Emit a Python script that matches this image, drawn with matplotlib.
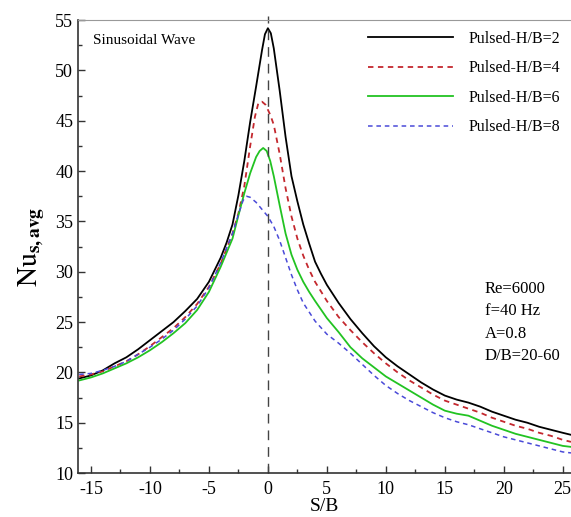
import matplotlib
matplotlib.use("Agg")
import matplotlib.pyplot as plt
from matplotlib.ticker import MultipleLocator

plt.rcParams['font.family'] = ['Liberation Serif', 'DejaVu Serif']
plt.rcParams['mathtext.fontset'] = 'stix'
plt.rcParams['axes.unicode_minus'] = False

# S/B positions and Nu values, one pair per H/B case
x_hb2 = [-16, -15, -14, -13, -12, -11, -10, -9, -8, -7, -6, -5, -4, -3.5, -3, -2.5, -2, -1.5, -1, -0.5,
         -0.25, 0, 0.25, 0.5, 1, 1.5, 2, 2.5, 3, 3.5, 4, 4.5, 5, 6, 7, 8, 9, 10, 11, 12, 13, 14, 15,
         16, 17, 18, 19, 20, 21, 22, 23, 24, 25, 25.7]
nu_hb2 = [19.4, 19.7, 20.2, 20.9, 21.5, 22.3, 23.2, 24.1, 25.0, 26.1, 27.3, 29.0, 31.4, 32.9, 34.7, 37.6,
          41.0, 44.9, 48.4, 52.0, 53.6, 54.2, 53.7, 52.2, 48.0, 43.4, 39.5, 37.0, 34.7, 32.8, 31.0,
          29.8, 28.7, 26.9, 25.3, 23.9, 22.6, 21.5, 20.6, 19.8, 19.0, 18.3, 17.7, 17.3, 17.0, 16.6,
          16.1, 15.7, 15.3, 15.0, 14.6, 14.3, 14.0, 13.8]

x_hb4 = [-16, -15, -14, -13, -12, -11, -10, -9, -8, -7, -6, -5, -4, -3, -2.5, -2, -1.5, -1.1, -0.8, -0.5,
         -0.2, 0.2, 0.5, 1, 1.5, 2, 2.5, 3, 3.5, 4, 5, 6, 7, 8, 9, 10, 11, 12, 13, 14, 15, 16, 17,
         18, 19, 20, 21, 22, 23, 24, 25, 25.7]
nu_hb4 = [19.6, 19.8, 20.1, 20.6, 21.1, 21.8, 22.6, 23.5, 24.4, 25.5, 26.8, 28.5, 30.8, 33.8, 35.8, 38.5,
          42.5, 45.4, 46.8, 46.9, 46.6, 45.6, 44.6, 41.7, 38.3, 35.5, 33.3, 31.6, 30.2, 29.0, 27.1,
          25.5, 24.2, 23.0, 21.9, 20.9, 20.0, 19.2, 18.5, 17.8, 17.2, 16.8, 16.4, 16.0, 15.5, 15.1,
          14.7, 14.4, 14.0, 13.7, 13.3, 13.1]

x_hb6 = [-16, -15, -14, -13, -12, -11, -10, -9, -8, -7, -6, -5, -4, -3, -2.5, -2, -1.5, -1, -0.7, -0.4,
         -0.1, 0.2, 0.5, 1, 1.5, 2, 2.5, 3, 3.5, 4, 5, 6, 7, 8, 9, 10, 11, 12, 13, 14, 15, 16, 17,
         18, 19, 20, 21, 22, 23, 24, 25, 25.7]
nu_hb6 = [19.2, 19.5, 19.9, 20.4, 20.9, 21.5, 22.2, 23.0, 23.9, 24.9, 26.2, 28.0, 30.5, 33.3, 35.6, 37.8,
          39.8, 41.4, 42.0, 42.3, 42.0, 41.0, 39.5, 36.6, 33.8, 31.7, 30.2, 29.0, 28.0, 27.1, 25.4,
          24.0, 22.5, 21.4, 20.5, 19.6, 18.9, 18.2, 17.5, 16.8, 16.2, 15.9, 15.7, 15.2, 14.7, 14.3,
          13.9, 13.6, 13.3, 13.0, 12.7, 12.6]

x_hb8 = [-16, -15, -14, -13, -12, -11, -10, -9, -8, -7, -6, -5, -4, -3, -2.5, -2.1, -1.8, -1.5, -1, -0.5,
         0, 0.5, 1, 1.5, 2, 2.5, 3, 4, 5, 6, 7, 8, 9, 10, 11, 12, 13, 14, 15, 16, 17, 18, 19, 20,
         21, 22, 23, 24, 25, 25.7]
nu_hb8 = [19.8, 19.9, 20.2, 20.6, 21.1, 21.8, 22.5, 23.3, 24.2, 25.3, 26.6, 28.4, 30.9, 33.8, 35.7, 37.1,
          37.5, 37.4, 36.9, 36.2, 35.5, 34.5, 33.1, 31.4, 29.7, 28.2, 26.9, 25.1, 23.8, 22.9, 21.9,
          20.8, 19.7, 18.7, 17.9, 17.2, 16.6, 16.0, 15.5, 15.1, 14.8, 14.4, 14.0, 13.6, 13.3, 13.0,
          12.7, 12.4, 12.1, 12.0]

labels = ['Pulsed-H/B=2', 'Pulsed-H/B=4', 'Pulsed-H/B=6', 'Pulsed-H/B=8']
conditions = ['Re=6000', 'f=40 Hz', 'A=0.8', 'D/B=20-60']

fig = plt.figure(figsize=(5.71, 5.17), dpi=100)
ax = fig.add_axes([0.1366, 0.085, 0.8634, 0.876])

ax.plot(x_hb2, nu_hb2, color='black', lw=1.3, label=labels[0])
ax.plot(x_hb4, nu_hb4, color='#c4282e', lw=1.3, dashes=(3, 2.5), label=labels[1])
ax.plot(x_hb6, nu_hb6, color='#22c322', lw=1.3, label=labels[2])
ax.plot(x_hb8, nu_hb8, color='#4a4ad8', lw=1.1, dashes=(3, 2.5), label=labels[3])
ax.axvline(0, color='#444444', lw=1.0, dashes=(7, 5), ymax=1.01, clip_on=False)

ax.set_xlim(-16.1, 25.7)
ax.set_ylim(10, 55)
ax.xaxis.set_major_locator(MultipleLocator(5))
ax.xaxis.set_minor_locator(MultipleLocator(2.5))
ax.yaxis.set_major_locator(MultipleLocator(5))
ax.yaxis.set_minor_locator(MultipleLocator(2.5))
ax.tick_params(which='both', direction='in', labelsize=13, width=1.0, colors='#333333', labelcolor='black')
ax.tick_params(which='major', length=5)
ax.tick_params(which='minor', length=3)
ax.tick_params(axis='x', pad=6)

ax.spines['right'].set_visible(False)
ax.spines['top'].set_color('#999999')
ax.spines['top'].set_linewidth(0.8)
for s in ['left', 'bottom']:
    ax.spines[s].set_color('#333333')
    ax.spines[s].set_linewidth(1.2)

ax.set_xlabel('S/B', fontsize=14, labelpad=0)
ax.set_ylabel(r'$\mathrm{Nu}_{\mathbf{s,avg}}$', fontsize=20, labelpad=6)

ax.text(0.03, 0.955, 'Sinusoidal Wave', transform=ax.transAxes, fontsize=11, va='center')
ax.text(0.825, 0.24, '\n'.join(conditions), transform=ax.transAxes, fontsize=12,
        va='bottom', linespacing=1.55)

ax.legend(loc='upper right', bbox_to_anchor=(1.0, 1.0), frameon=False, fontsize=11.5,
          handlelength=5.3, handletextpad=1.0, labelspacing=0.85, borderaxespad=0.25)

fig.savefig('out.png', dpi=100)
